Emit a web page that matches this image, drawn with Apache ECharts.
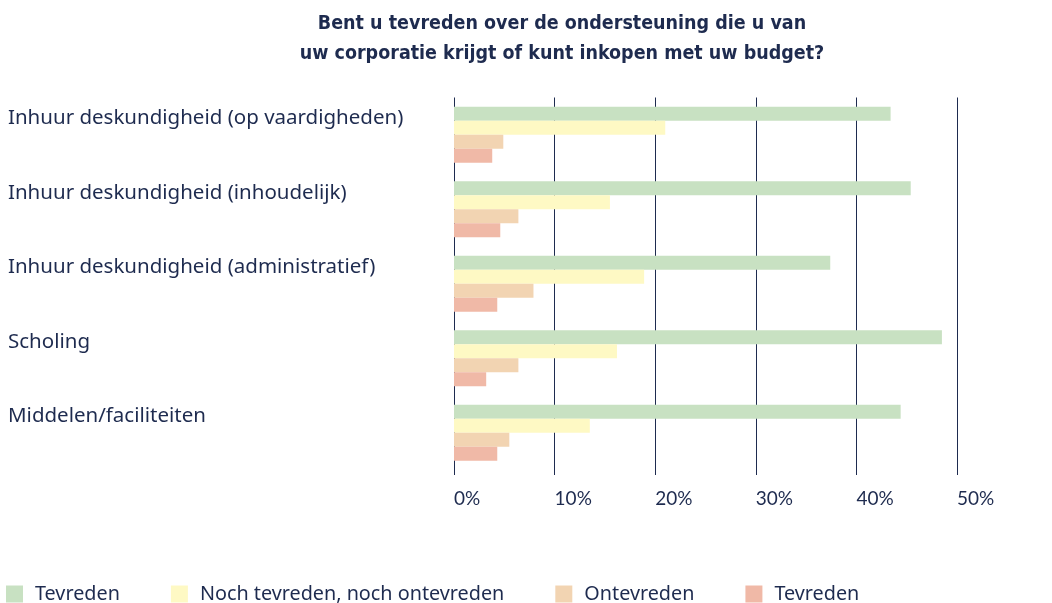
<!DOCTYPE html>
<html>
<head>
<meta charset="utf-8">
<style>
  html, body { margin: 0; padding: 0; background: #fff; }
  #chart { width: 1052px; height: 603px; }
</style>
<script src="https://cdn.jsdelivr.net/npm/echarts@6/dist/echarts.min.js"></script>
</head>
<body>
<div id="chart"></div>
<script>
// categories top to bottom
let categories = [
    'Inhuur deskundigheid (op vaardigheden)',
    'Inhuur deskundigheid (inhoudelijk)',
    'Inhuur deskundigheid (administratief)',
    'Scholing',
    'Middelen/faciliteiten'
];

// series labels as shown in the legend (first and last are the same text)
let seriesLabels = ['Tevreden', 'Noch tevreden, noch ontevreden', 'Ontevreden', 'Tevreden'];

// percentages per category
let tevreden = [43.4, 45.4, 37.4, 48.5, 44.4];
let neutraal = [21.0, 15.5, 18.9, 16.2, 13.5];
let ontevreden = [4.9, 6.4, 7.9, 6.4, 5.5];
let tevreden2 = [3.8, 4.6, 4.3, 3.2, 4.3];

let valueTicks = [0, 10, 20, 30, 40, 50];

let colors = ['#c8e1c2', '#fef9c4', '#f2d4b2', '#f0b9a7'];

let navy = '#1e2b4f';
let bodyFont = '"Noto Sans", Lato, sans-serif';

let myChart = echarts.init(document.getElementById('chart'));

// ids keep the two "Tevreden" series apart, the formatter puts the label back
let ids = ['s0', 's1', 's2', 's3'];
let values = [tevreden, neutraal, ontevreden, tevreden2];

let option = {
    animation: false,
    title: {
        text: 'Bent u tevreden over de ondersteuning die u van\nuw corporatie krijgt of kunt inkopen met uw budget?',
        left: 557,
        top: 4,
        textAlign: 'center',
        textStyle: {
            fontFamily: '"Liberation Sans Narrow", "DejaVu Sans Condensed", sans-serif',
            fontWeight: 'bold',
            fontSize: 19.5,
            lineHeight: 30,
            color: navy
        }
    },
    legend: {
        data: ids,
        left: 1,
        top: 579,
        icon: 'rect',
        itemWidth: 17,
        itemHeight: 17,
        itemGap: 51,
        formatter: function (name)
        {
            return seriesLabels[ids.indexOf(name)];
        },
        textStyle: {
            fontFamily: bodyFont,
            fontSize: 19.8,
            color: navy,
            padding: [0, 0, 0, 7]
        }
    },
    grid: {
        left: 454,
        right: 95,
        top: 97.5,
        bottom: 133
    },
    xAxis: {
        type: 'value',
        min: valueTicks[0],
        max: valueTicks[valueTicks.length - 1],
        interval: 10,
        axisLine: {show: false},
        axisTick: {
            show: true,
            length: 5,
            lineStyle: {color: navy, width: 1}
        },
        splitLine: {
            show: true,
            lineStyle: {color: navy, width: 1}
        },
        axisLabel: {
            formatter: '{value}%',
            align: 'left',
            margin: 19,
            fontFamily: 'Lato, sans-serif',
            fontSize: 19,
            color: navy
        }
    },
    yAxis: {
        type: 'category',
        data: categories,
        inverse: true,
        axisLine: {show: false},
        axisTick: {show: false},
        axisLabel: {
            align: 'left',
            margin: 446,
            formatter: function (value)
            {
                return '{a|' + value + '}';
            },
            rich: {
                a: {
                    fontFamily: bodyFont,
                    fontSize: 20.5,
                    color: navy,
                    padding: [0, 0, 33, 0]
                }
            }
        }
    },
    series: ids.map(function (id, i)
    {
        return {
            id: id,
            name: id,
            type: 'bar',
            data: values[i],
            barGap: 0,
            barCategoryGap: '25%',
            itemStyle: {color: colors[i]}
        };
    })
};

myChart.setOption(option);
</script>
</body>
</html>
